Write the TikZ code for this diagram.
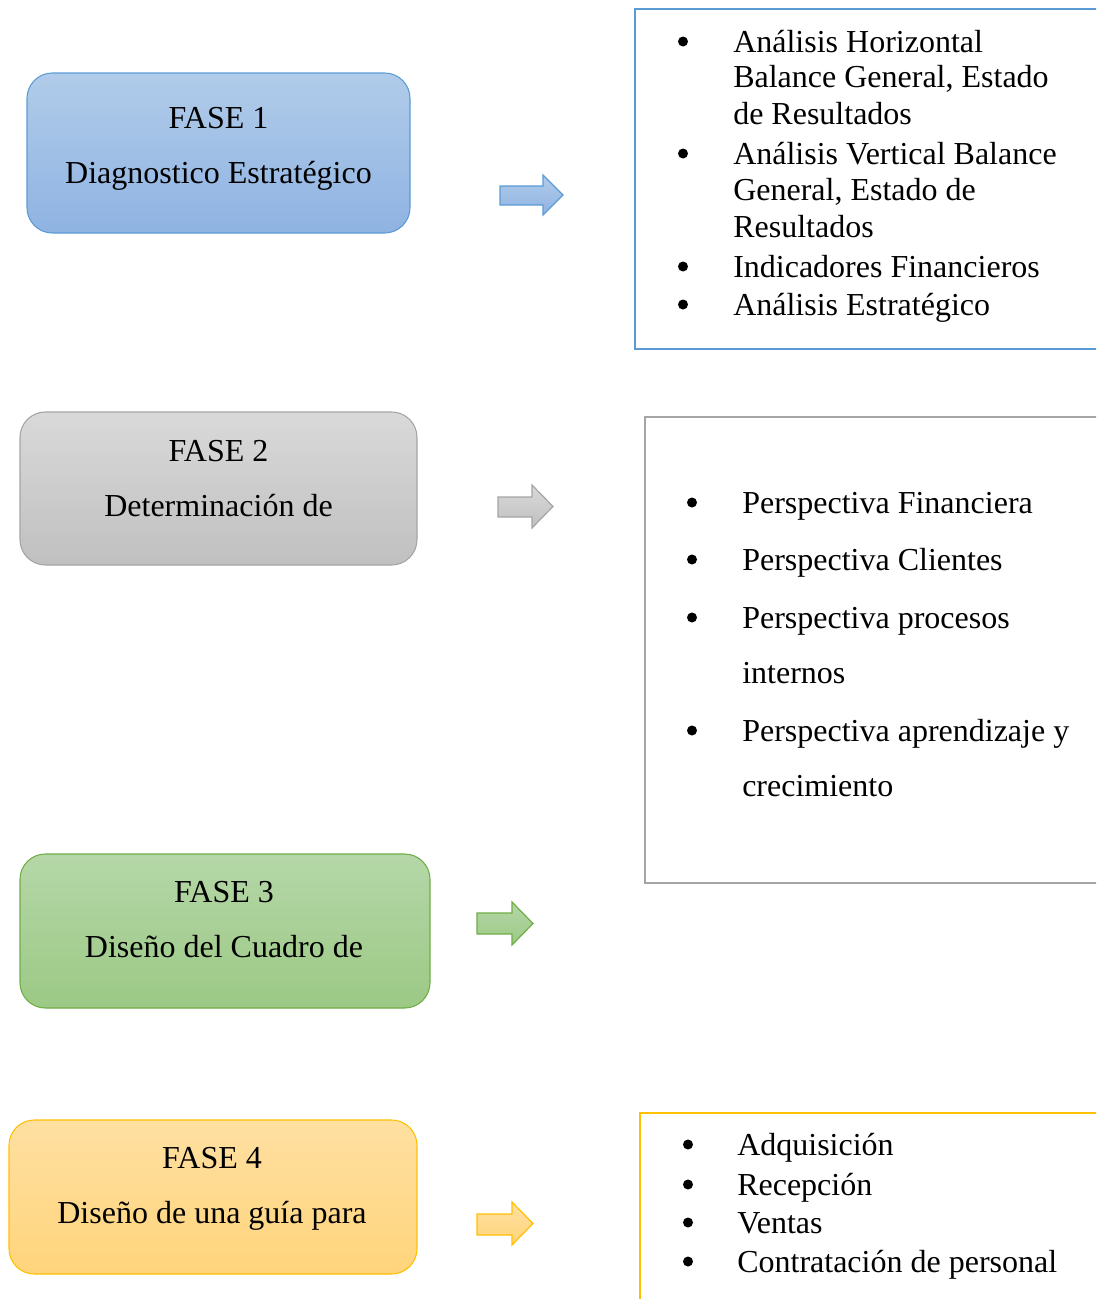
\documentclass[tikz,border=0pt]{standalone}
\usepackage{fontspec}
\setmainfont{Liberation Serif}

\definecolor{blueA}{HTML}{B1CCEA}
\definecolor{blueB}{HTML}{8FB3E2}
\definecolor{blueL}{HTML}{5B9BD5}
\definecolor{grayA}{HTML}{D9D9D9}
\definecolor{grayB}{HTML}{C0C0C0}
\definecolor{grayL}{HTML}{A5A5A5}
\definecolor{greenA}{HTML}{B5D7A8}
\definecolor{greenB}{HTML}{9CC985}
\definecolor{greenL}{HTML}{70AD47}
\definecolor{goldA}{HTML}{FFE0A2}
\definecolor{goldB}{HTML}{FFD47B}
\definecolor{goldL}{HTML}{FFC000}

\tikzset{
  phase/.style={draw=#1L, line width=0.8pt, rounded corners=19pt,
    top color=#1A, bottom color=#1B, inner sep=0pt},
  listbox/.style={draw=#1, line width=1.9pt, inner sep=0pt},
  txt/.style={font=\fontsize{24}{27.6}\selectfont, inner sep=0pt, anchor=base west},
  ctxt/.style={font=\fontsize{24}{27.6}\selectfont, inner sep=0pt, anchor=base},
  dot/.style={circle, fill=black, inner sep=0pt, minimum size=7.5pt},
  flow/.style={draw=#1L, line width=0.9pt, top color=#1A, bottom color=#1B, line join=miter},
}

% block arrow: left x, top y, shaft top, shaft bottom, head base x, bottom y, tip x
\newcommand{\blockarrow}[8]{%
  \draw[flow=#1] (#2,#4) -- (#6,#4) -- (#6,#3) -- (#8,{(#3+#7)/2}) -- (#6,#7)
    -- (#6,#5) -- (#2,#5) -- cycle;}

\begin{document}
\begin{tikzpicture}[x=0.75pt, y=-0.75pt]
\useasboundingbox (0,0) rectangle (1096,1299);
\clip (0,0) rectangle (1096,1299);

% ---------- Phase boxes ----------
\node[phase=blue, minimum width=287.25pt, minimum height=120pt] (f1) at (218.5,153) {};
\node[ctxt] (f1a) at (218.5,128) {FASE 1};
\node[ctxt] (f1b) at (218.5,183) {Diagnostico Estratégico};

\node[phase=gray, minimum width=297.75pt, minimum height=114.75pt] (f2) at (218.5,488.5) {};
\node[ctxt] (f2a) at (218.5,461) {FASE 2};
\node[ctxt] (f2b) at (218.5,516) {Determinación de};

\node[phase=green, minimum width=307.5pt, minimum height=115.5pt] (f3) at (225,931) {};
\node[ctxt] (f3a) at (224,902) {FASE 3};
\node[ctxt] (f3b) at (224,957) {Diseño del Cuadro de};

\node[phase=gold, minimum width=306pt, minimum height=115.5pt] (f4) at (213,1197) {};
\node[ctxt] (f4a) at (212,1168) {FASE 4};
\node[ctxt] (f4b) at (212,1223) {Diseño de una guía para};

% ---------- Block arrows ----------
% colour, left, head top, shaft top, shaft bottom, head base, head bottom, tip
\blockarrow{blue}{500}{175}{186}{205}{543}{215}{563}
\blockarrow{gray}{498}{485}{497}{517}{532}{528}{553}
\blockarrow{green}{477}{902}{913}{934}{512}{945}{533}
\blockarrow{gold}{477}{1202}{1214}{1235}{512}{1245}{533}

% ---------- List box 1 ----------
\node[listbox=blueL, minimum width=360pt, minimum height=255pt] (r1) at (875,179) {};
\foreach \y in {41.5,153.5,266.5,304.5} \node[dot] at (683,\y) {};
\node[txt] (t11) at (733,52)  {Análisis Horizontal};
\node[txt] (t12) at (733,87)  {Balance General, Estado};
\node[txt] (t13) at (733,124) {de Resultados};
\node[txt] (t14) at (733,164) {Análisis Vertical Balance};
\node[txt] (t15) at (733,200) {General, Estado de};
\node[txt] (t16) at (733,237) {Resultados};
\node[txt] (t17) at (733,277) {Indicadores Financieros};
\node[txt] (t18) at (733,315) {Análisis Estratégico};

% ---------- List box 2 ----------
\node[listbox=grayL, minimum width=352.5pt, minimum height=349.5pt] (r2) at (880,650) {};
\foreach \y in {502.5,559.5,617.5,730.5} \node[dot] at (692,\y) {};
\node[txt] (t21) at (742,513) {Perspectiva Financiera};
\node[txt] (t22) at (742,570) {Perspectiva Clientes};
\node[txt] (t23) at (742,628) {Perspectiva procesos};
\node[txt] (t24) at (742,683) {internos};
\node[txt] (t25) at (742,741) {Perspectiva aprendizaje y};
\node[txt] (t26) at (742,796) {crecimiento};

% ---------- List box 4 ----------
\node[listbox=goldL, minimum width=356.25pt, minimum height=210pt] (r4) at (877.5,1253) {};
\foreach \y in {1144.5,1184.5,1222.5,1261.5} \node[dot] at (688,\y) {};
\node[txt] (t41) at (737,1155) {Adquisición};
\node[txt] (t42) at (737,1195) {Recepción};
\node[txt] (t43) at (737,1233) {Ventas};
\node[txt] (t44) at (737,1272) {Contratación de personal};
\end{tikzpicture}
\end{document}
